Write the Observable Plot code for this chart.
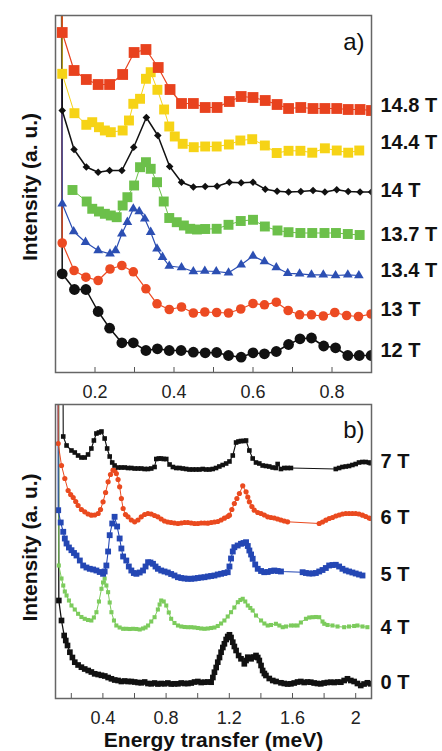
<!DOCTYPE html>
<html><head><meta charset="utf-8">
<script src="https://cdn.jsdelivr.net/npm/d3@7"></script>
<script src="https://cdn.jsdelivr.net/npm/@observablehq/plot@0.6"></script>
<style>
html,body{margin:0;padding:0;background:#fff;}
#chart svg{display:block;}
</style></head><body><div id="chart"></div>
<script>
// ---------- Panel a) data (x: meV, y: intensity a.u.) ----------
const xA148 = [0.117,0.147,0.178,0.208,0.237,0.270,0.299,0.329,0.360,0.390,0.419,0.449,0.479,0.509,0.540,0.570,0.600,0.631,0.661,0.690,0.721,0.752,0.782,0.812,0.841,0.871,0.900];
const yA148 = [340,302,293,288,288,298,320,323,305,283,269,269,265,265,271,276,275,272,268,264,265,264,264,264,263,263,262];
const xA144 = [0.117,0.148,0.178,0.193,0.210,0.225,0.240,0.270,0.286,0.297,0.314,0.329,0.341,0.358,0.375,0.388,0.402,0.422,0.450,0.479,0.508,0.539,0.568,0.598,0.630,0.660,0.690,0.720,0.750,0.782,0.812,0.841,0.869];
const yA144 = [298.7,259.3,247.7,250.3,245.3,242,240.3,242,252,268.7,273.7,293.7,300.3,282.7,263,246,236,228.7,225.3,226,226,228,232,233.3,227,219.5,221.7,221.7,219.8,224.2,222,219.8,222];
const xA140 = [0.117,0.147,0.178,0.208,0.237,0.268,0.298,0.330,0.359,0.389,0.419,0.449,0.479,0.509,0.540,0.570,0.600,0.631,0.661,0.690,0.721,0.752,0.782,0.812,0.841,0.871,0.900];
const yA140 = [262,223,205.5,200.3,202,202,225.3,255,237,206,190.3,185.5,186,186.3,190.3,189.7,190.3,183.3,181.3,180.5,181,182,180.5,182.7,181,180.5,180.5];
const xA137 = [0.143,0.179,0.193,0.210,0.225,0.240,0.255,0.270,0.282,0.299,0.314,0.329,0.341,0.357,0.374,0.388,0.407,0.425,0.441,0.458,0.479,0.508,0.538,0.569,0.600,0.630,0.662,0.690,0.720,0.750,0.781,0.810,0.840,0.870];
const yA137 = [182.5,171,163.7,161,158.7,157,155.3,167,175.3,187,205.3,210.3,203.7,190.3,171,154.5,150.3,147,143.7,143,143.5,143.7,147.7,151.5,152.7,146,142,140.3,139.5,139.5,139.5,139.5,138.5,137.5];
const xA134 = [0.117,0.146,0.176,0.208,0.238,0.252,0.268,0.282,0.297,0.312,0.326,0.341,0.357,0.371,0.388,0.419,0.449,0.478,0.507,0.538,0.570,0.600,0.629,0.659,0.688,0.718,0.748,0.778,0.809,0.840,0.868];
const yA134 = [168.7,141,130.3,122,118.7,122,138.7,150.3,163.7,161,153.7,140.3,123.7,115.3,106.5,105,101,101.5,101,99.7,107.7,116.5,111,105,99.2,98.7,97.7,97.7,97,97.7,97];
const xA130 = [0.117,0.147,0.177,0.208,0.238,0.268,0.297,0.329,0.357,0.388,0.419,0.449,0.478,0.508,0.538,0.569,0.600,0.629,0.659,0.689,0.718,0.748,0.778,0.807,0.837,0.867,0.899];
const yA130 = [129.5,102,95.3,92,103.5,107,100.7,83.7,68.7,63,65.5,59.5,60.5,60,59.5,63.5,69,67.7,70.3,62,57.7,57.7,56.5,60,57,56,58.5];
const xA120 = [0.117,0.148,0.177,0.208,0.237,0.268,0.297,0.329,0.358,0.388,0.418,0.449,0.479,0.508,0.538,0.570,0.600,0.629,0.659,0.690,0.719,0.748,0.779,0.809,0.840,0.869,0.899];
const yA120 = [98.7,83,83,61,44.3,29.7,29.7,22,23.7,22,22,20.3,19.7,20,17,15.3,19.7,18.7,21,28,33.7,34.5,26.5,24.7,17,17,17];

const labelsA = ["14.8 T","14.4 T","14 T","13.7 T","13.4 T","13 T","12 T"];
const labelPosA = [266.5,229.5,182,137.5,101.5,62.5,21.5];
const ticksA = [0.2,0.3,0.4,0.5,0.6,0.7,0.8];
const tickLabelA = [0.2,0.4,0.6,0.8];

// ---------- Panel b) data ----------
const xB7 = [0.149,0.170,0.201,0.222,0.243,0.264,0.285,0.306,0.327,0.343,0.359,0.375,0.391,0.411,0.427,0.443,0.459,0.474,0.496,0.517,0.538,0.559,0.580,0.601,0.622,0.643,0.664,0.685,0.706,0.727,0.738,0.754,0.769,0.785,0.801,0.822,0.843,0.864,0.885,0.906,0.927,0.948,0.969,0.990,1.011,1.032,1.053,1.074,1.095,1.116,1.137,1.158,1.180,1.201,1.222,1.243,1.258,1.274,1.290,1.306,1.327,1.348,1.369,1.390,1.411,1.432,1.453,1.474,1.495,1.506,1.527,1.548,1.569,1.590,1.874,1.895,1.916,1.937,1.958,1.979,2.000,2.021,2.042,2.063,2.084,2.095];
const yB7 = [262,253,248,246,243,241,241,244,250,258,265,266,267,260,250,242,236,233,231,231,231,230.5,230.5,230,230,230,229.5,229.5,230,231.5,239.5,240,240,239.5,239.5,234,231.5,230.5,230.5,230,229.5,229,229,229,229,229.5,229,229,229.5,230.5,232,233.5,235,237,243,256,257,257.5,257.5,258,248,240,236,235,233,232.5,232,231,230.5,234.5,229.5,230.5,230.5,230.5,229.5,230.5,231.5,232,232.5,233.5,234.5,236,236.5,236.5,236,235.3];
const xB6 = [0.117,0.138,0.159,0.180,0.196,0.212,0.228,0.243,0.264,0.285,0.306,0.327,0.348,0.370,0.385,0.401,0.417,0.433,0.448,0.464,0.475,0.485,0.496,0.506,0.517,0.528,0.543,0.559,0.580,0.601,0.622,0.643,0.664,0.685,0.706,0.727,0.748,0.769,0.790,0.811,0.832,0.853,0.875,0.896,0.917,0.938,0.959,0.980,1.001,1.022,1.043,1.064,1.085,1.106,1.127,1.148,1.169,1.190,1.201,1.216,1.232,1.248,1.264,1.285,1.306,1.317,1.327,1.343,1.358,1.380,1.401,1.422,1.443,1.464,1.485,1.506,1.527,1.548,1.569,1.769,1.790,1.811,1.832,1.853,1.874,1.895,1.916,1.937,1.958,1.979,2.000,2.021,2.043,2.064,2.085,2.095];
const yB6 = [255,233,220,208,204,201,197,193,189,186.7,184.5,183.3,183.5,185,189,196.7,206,216.7,224,228.3,228,225,219,211.7,200,190,184,181.7,178.5,176.7,178.5,181.7,184,185,184.5,183,181.7,179.5,177.5,176.5,176,175.5,175,175.5,176,176,175.5,175,175,175.5,175.5,175.3,176,176.5,177,178.5,180.3,182,183.3,189,195,200,205,212.7,206.7,201.5,196.7,192,188.3,186,185,183.5,181.7,181,180.5,179.5,178.5,177.5,176.7,175,176.5,178.3,180,181,182.5,183.5,184.5,185,185,185,185,184.5,183.3,182,180.5,180];
const xB5 = [0.117,0.133,0.149,0.159,0.170,0.185,0.201,0.217,0.233,0.254,0.275,0.296,0.317,0.338,0.359,0.380,0.401,0.411,0.422,0.433,0.443,0.459,0.474,0.490,0.506,0.517,0.528,0.548,0.564,0.580,0.596,0.612,0.633,0.654,0.670,0.686,0.701,0.717,0.733,0.748,0.769,0.790,0.811,0.832,0.853,0.875,0.896,0.917,0.938,0.959,0.980,1.001,1.022,1.043,1.064,1.085,1.106,1.127,1.148,1.169,1.190,1.201,1.211,1.222,1.232,1.253,1.274,1.290,1.306,1.317,1.327,1.338,1.348,1.364,1.380,1.401,1.421,1.443,1.464,1.485,1.506,1.527,1.664,1.685,1.706,1.727,1.748,1.769,1.790,1.811,1.832,1.853,1.874,1.895,1.916,1.937,1.958,1.979,2.000,2.021,2.043];
const yB5 = [188.3,176,166.7,160,155,151,148.3,145.5,143,138,133,131,129.7,129,128,126.5,124.7,127,133,147,163.3,175,181.7,172,160,150,142,138,132,128,125.5,124.7,126,128,132,136.3,136,134.7,132,129.7,128,127,126,124.5,123,121.3,120.5,120,119.7,119.7,120,120.5,121,121.3,122,122.5,123,124,124.7,125.5,126.3,132,140,147,151.3,153,154.7,155.5,156.3,152.5,148,144,139.7,134,129.7,127.5,126.3,126.5,127.5,128,127.5,127,126.3,125.5,125,125,125.5,127,128.5,130.5,133,133.5,133.7,132,129.7,128,127,126,125,124,123];
const xB4 = [0.121,0.138,0.149,0.159,0.170,0.185,0.201,0.222,0.243,0.264,0.285,0.306,0.327,0.343,0.359,0.375,0.391,0.401,0.411,0.422,0.433,0.443,0.454,0.470,0.485,0.506,0.528,0.548,0.569,0.590,0.612,0.633,0.654,0.670,0.686,0.706,0.727,0.748,0.759,0.769,0.785,0.801,0.817,0.832,0.853,0.875,0.896,0.917,0.938,0.959,0.980,1.001,1.022,1.043,1.064,1.085,1.106,1.127,1.148,1.169,1.190,1.211,1.232,1.254,1.270,1.285,1.301,1.317,1.333,1.348,1.369,1.401,1.422,1.443,1.464,1.495,1.517,1.538,1.559,1.590,1.611,1.632,1.653,1.685,1.706,1.727,1.748,1.769,1.790,1.801,1.822,1.853,1.885,1.927,1.958,1.990,2.011,2.043,2.074];
const yB4 = [133,120,113,107,103,98,93,89,84.7,81.5,79.7,78.5,78,81,86.3,97,109.7,116,120,113,106.3,96,86.3,78,73,71,69.7,69.7,69.5,69.7,69.5,69,70,71,73,77,81.3,89,94,98,97,93,86,79.7,75.5,73,72,71.5,71.3,71.3,71,70.5,70,69.7,70,70.5,71,72.5,75,78,82,86.3,91,96.3,98.5,99.7,97,93,90.5,88,83,78,75,73,73.5,74.7,73,71.3,72,73,73,73,76,79.7,81,81.3,81.5,81.3,77,74.7,73.5,73,72,71.3,72,72.5,73,72,71.3];
const xB0 = [0.121,0.138,0.155,0.165,0.176,0.191,0.207,0.222,0.243,0.264,0.285,0.307,0.327,0.348,0.370,0.391,0.412,0.433,0.454,0.475,0.496,0.517,0.538,0.559,0.580,0.601,0.622,0.643,0.664,0.685,0.706,0.727,0.748,0.769,0.790,0.811,0.832,0.853,0.875,0.896,0.917,0.938,0.959,0.980,1.001,1.022,1.043,1.064,1.085,1.096,1.106,1.117,1.127,1.138,1.148,1.159,1.169,1.180,1.190,1.201,1.211,1.222,1.232,1.243,1.259,1.274,1.295,1.306,1.317,1.327,1.338,1.353,1.369,1.380,1.390,1.401,1.411,1.422,1.432,1.453,1.475,1.496,1.527,1.548,1.569,1.590,1.611,1.632,1.653,1.674,1.695,1.716,1.737,1.758,1.779,1.800,1.821,1.843,1.864,1.885,1.906,1.927,1.948,1.969,1.990,2.011,2.032,2.053,2.074,2.095];
const yB0 = [98,78,63,58,53,46.3,41,36.3,33.5,31.3,29.5,28,26.5,24.7,24,23.2,22.5,21,19.7,18.5,18,17,17.5,17,17,16.5,16,15.7,16.5,15,14.7,15.5,14.5,15,14.7,15.5,14.5,14.7,14.7,15.5,15,15,15.5,16.5,17,16,16.3,16.5,16.3,21,26.3,31,36.3,41,46.3,51,54.7,59,62,63.7,61,56.3,52,48,43,39.7,34.7,38,41.3,40.5,39.7,41.5,43,41,38,33,28,25,23,20,18,17,15.7,15,14.5,14.7,15.5,16.5,17,16,16.5,16.3,15.5,15,14.7,15.5,16,16.3,16,16.5,16.3,18,19.7,18,17,15,13,14.5,15.7,14.7];

const labelsB = ["7 T","6 T","5 T","4 T","0 T"];
const labelPosB = [236.5,180.5,123.5,70.5,15.5];
const ticksB = [0.2,0.4,0.6,0.8,1.0,1.2,1.4,1.6,1.8,2.0];
const tickLabelB = [0.4,0.8,1.2,1.6,2.0];
const tickTextB = ["0.4","0.8","1.2","1.6","2"];

// elastic-line tail rising off the top at the left edge
const leadX = 0.106, leadY = 2000;

const FONT = "'Liberation Sans', Arial, Helvetica, sans-serif";

function rows(xs, ys, lead) {
  const r = lead ? [{x: leadX, y: leadY, lead: true}] : [];
  xs.forEach((x, i) => r.push({x, y: ys[i], lead: false}));
  return r;
}
function series(xs, ys, o) {
  const d = rows(xs, ys, o.lead !== false);
  return [
    Plot.line(d, {x: "x", y: "y", stroke: o.line || o.color, strokeWidth: o.lw, clip: true}),
    Plot.dot(d.filter(p => !p.lead), {x: "x", y: "y", symbol: o.symbol, r: o.r, fill: o.color, stroke: "none", clip: true})
  ];
}

const sA = [
  series(xA120, yA120, {color: "#111", symbol: "circle", r: 5.4, lw: 1.5}),
  series(xA130, yA130, {color: "#ec4a22", symbol: "circle", r: 4.8, lw: 1.2}),
  series(xA134, yA134, {color: "#2c4fb3", symbol: "triangle", r: 3.6, lw: 1.2}),
  series(xA137, yA137, {color: "#6cc04a", symbol: "square", r: 5.6, lw: 1, lead: false}),
  series(xA140, yA140, {color: "#111", symbol: "diamond2", r: 3.4, lw: 1.5}),
  series(xA144, yA144, {color: "#f6d316", symbol: "square", r: 5.6, lw: 1}),
  series(xA148, yA148, {color: "#e8421e", symbol: "square", r: 6.1, lw: 1.2})
].flat();

const sB = [
  series(xB0, yB0, {color: "#111", symbol: "square", r: 3.2, lw: 1.3}),
  series(xB4, yB4, {color: "#7ccb5c", symbol: "square", r: 2.3, lw: 1}),
  series(xB5, yB5, {color: "#2447b4", symbol: "square", r: 3.3, lw: 1.1}),
  series(xB6, yB6, {color: "#ea4a1f", symbol: "circle", r: 2.6, lw: 1}),
  series(xB7, yB7, {color: "#111", symbol: "square", r: 2.6, lw: 1.1})
].flat();

const labRowsA = labelsA.map((t, i) => ({t, y: labelPosA[i]}));
const labRowsB = labelsB.map((t, i) => ({t, y: labelPosB[i]}));

const plotA = Plot.plot({
  width: 442, height: 400,
  marginLeft: 55, marginRight: 71, marginTop: 15, marginBottom: 28,
  x: {domain: [0.1, 0.9], label: null},
  y: {domain: [0, 357], axis: null, label: null},
  style: {fontFamily: FONT, background: "white", overflow: "visible"},
  marks: [
    ...sA,
    Plot.axisX({ticks: ticksA, tickSize: -5, tickFormat: () => "", stroke: "#555", label: null}),
    Plot.axisX({ticks: tickLabelA, tickSize: 0, tickPadding: 13, fontSize: 18, fill: "#222", tickFormat: d => d.toFixed(1), label: null}),
    Plot.frame({stroke: "#666", strokeWidth: 1.5}),
    Plot.text(labRowsA, {y: "y", text: "t", frameAnchor: "right", dx: 9, textAnchor: "start", lineAnchor: "middle", fontSize: 20, fontWeight: "bold", fill: "#111"}),
    Plot.text(["a)"], {frameAnchor: "top-right", dx: -7, dy: 17, fontSize: 24, fill: "#111"}),
    Plot.text(["Intensity (a. u.)"], {frameAnchor: "left", rotate: -90, dx: -25, dy: -7, textAnchor: "middle", lineAnchor: "middle", fontSize: 21, fontWeight: "bold", fill: "#111"})
  ]
});

const plotB = Plot.plot({
  width: 442, height: 351,
  marginLeft: 55, marginRight: 71, marginTop: 4, marginBottom: 53,
  x: {domain: [0.1, 2.1], label: null},
  y: {domain: [0, 294], axis: null, label: null},
  style: {fontFamily: FONT, background: "white", overflow: "visible"},
  marks: [
    ...sB,
    Plot.axisX({ticks: ticksB, tickSize: -5, tickFormat: () => "", stroke: "#555", label: null}),
    Plot.axisX({ticks: tickLabelB, tickSize: 0, tickPadding: 13, fontSize: 18, fill: "#222", tickFormat: d => tickTextB[tickLabelB.indexOf(d)], label: null}),
    Plot.frame({stroke: "#666", strokeWidth: 1.5}),
    Plot.text(labRowsB, {y: "y", text: "t", frameAnchor: "right", dx: 9, textAnchor: "start", lineAnchor: "middle", fontSize: 20, fontWeight: "bold", fill: "#111"}),
    Plot.text(["b)"], {frameAnchor: "top-right", dx: -7, dy: 16, fontSize: 24, fill: "#111"}),
    Plot.text(["Intensity (a. u.)"], {frameAnchor: "left", rotate: -90, dx: -25, dy: -4, textAnchor: "middle", lineAnchor: "middle", fontSize: 21, fontWeight: "bold", fill: "#111"}),
    Plot.text(["Energy transfer (meV)"], {frameAnchor: "bottom", dy: 42, textAnchor: "middle", lineAnchor: "middle", fontSize: 21, fontWeight: "bold", fill: "#111"})
  ]
});

const host = document.getElementById("chart");
host.appendChild(plotA);
host.appendChild(plotB);
</script>
</body></html>
